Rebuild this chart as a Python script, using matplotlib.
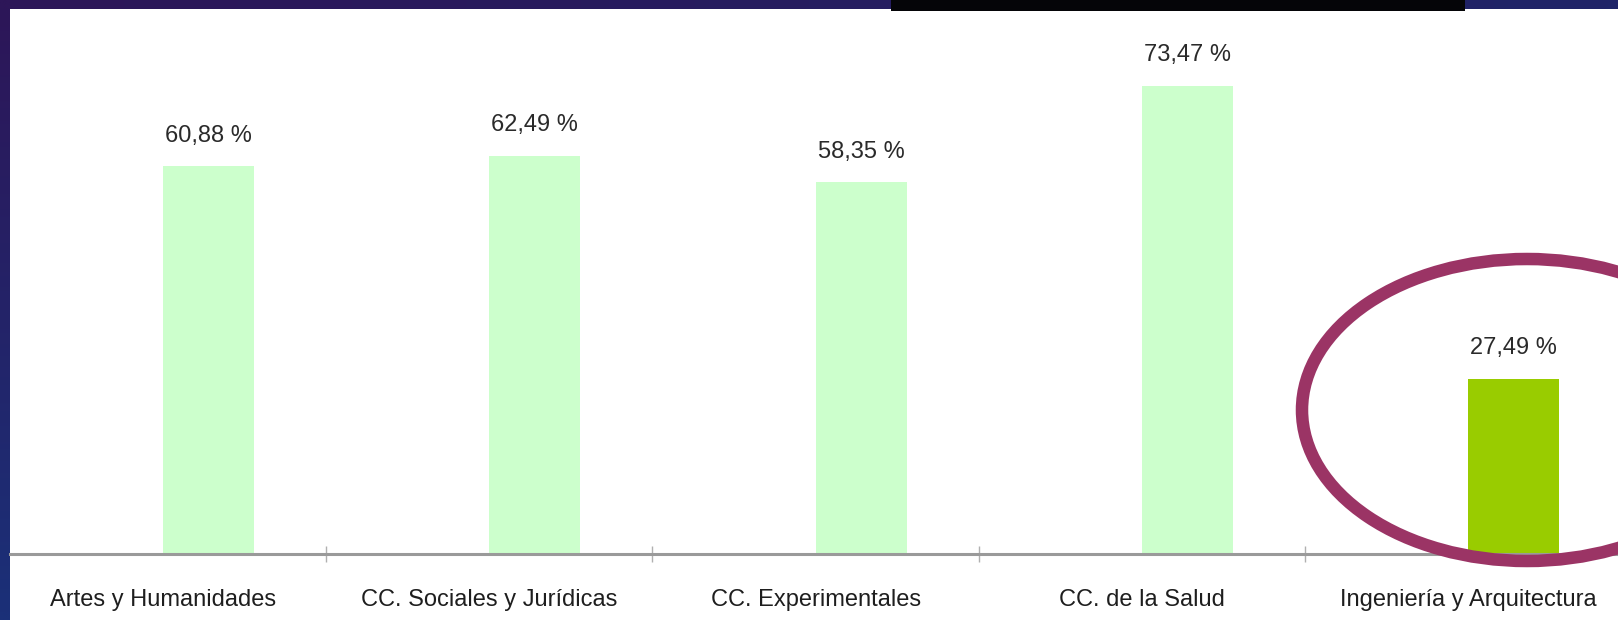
import matplotlib
matplotlib.use("Agg")
import matplotlib.pyplot as plt
from matplotlib import font_manager
from matplotlib.patches import Ellipse, Rectangle
from matplotlib.colors import to_rgb
import numpy as np

# ---------------- data ----------------
categories = ["Artes y Humanidades", "CC. Sociales y Jurídicas", "CC. Experimentales",
              "CC. de la Salud", "Ingeniería y Arquitectura"]
values = [60.88, 62.49, 58.35, 73.47, 27.49]
value_labels = ["60,88 %", "62,49 %", "58,35 %", "73,47 %", "27,49 %"]
highlight = [False, False, False, False, True]

# ---------------- fonts ----------------
names = {f.name for f in font_manager.fontManager.ttflist}
if "Liberation Sans Narrow" in names:
    FAM = ["Liberation Sans Narrow", "DejaVu Sans"]
    FS = 20
else:
    FAM = ["Liberation Sans", "DejaVu Sans"]
    FS = 17
plt.rcParams["font.family"] = FAM

W, H = 1618, 620
fig = plt.figure(figsize=(W / 100, H / 100), dpi=100)
fig.patch.set_facecolor("white")

# ---------------- frame (background gradient border) ----------------
bg = fig.add_axes([0, 0, 1, 1], zorder=0)
bg.set_axis_off()
tl, tr = np.array(to_rgb("#2d1658")), np.array(to_rgb("#1f2468"))
bl, br = np.array(to_rgb("#1b3078")), np.array(to_rgb("#1b3078"))
ny, nx = 40, 80
yy, xx = np.meshgrid(np.linspace(0, 1, ny), np.linspace(0, 1, nx), indexing="ij")
img = (tl[None, None] * ((1 - xx) * (1 - yy))[..., None] + tr[None, None] * (xx * (1 - yy))[..., None]
       + bl[None, None] * ((1 - xx) * yy)[..., None] + br[None, None] * (xx * yy)[..., None])
bg.imshow(img, extent=[0, W, H, 0], aspect="auto", interpolation="bilinear")
bg.set_xlim(0, W)
bg.set_ylim(H, 0)
bg.add_patch(Rectangle((10, 9), W - 10, H - 9, facecolor="white", edgecolor="none"))
bg.add_patch(Rectangle((891, 0), 574, 11, facecolor="#050508", edgecolor="none"))

# ---------------- chart axes ----------------
ax_bottom_px = 554
ax_top_px = 9
ax = fig.add_axes([10 / W, (H - ax_bottom_px) / H, (W - 10) / W, (ax_bottom_px - ax_top_px) / H], zorder=1)
ax.set_facecolor("none")

step_px = 326.3
x0_px = 163
ax.set_xlim((10 - x0_px) / step_px, (W - x0_px) / step_px)
ax.set_ylim(0, (ax_bottom_px - ax_top_px) / 6.37)

x = np.arange(len(categories))
bw = 0.279
cols = ["#99cc00" if h else "#ccffcc" for h in highlight]
ax.bar(x, values, width=bw, align="edge", color=cols, edgecolor="none", zorder=2)

for xi, v, lbl in zip(x, values, value_labels):
    ax.annotate(lbl, (xi + bw / 2, v), xytext=(0, 22), textcoords="offset points",
                ha="center", va="center", fontsize=FS, color="#2a2a2a")

for s in ["top", "right", "left"]:
    ax.spines[s].set_visible(False)
ax.spines["bottom"].set_color("#9a9a9a")
ax.spines["bottom"].set_linewidth(2.2)
ax.spines["bottom"].set_zorder(3)
ax.set_yticks([])

ax.set_xticks(x[:-1] + 0.5)
ax.set_xticklabels([])
ax.tick_params(axis="x", which="major", direction="inout", length=12, width=1.0, color="#b0b0b0")
ax.set_xticks(x, minor=True)
ax.set_xticklabels(categories, minor=True, fontsize=FS, color="#1e1e1e")
ax.tick_params(axis="x", which="minor", length=0, pad=25)

# ---------------- highlight ellipse ----------------
ell = Ellipse((1527, 410), 450, 302, fill=False, edgecolor="#9b3465", linewidth=9,
              transform=bg.transData, zorder=5, clip_on=False)
fig.add_artist(ell)

fig.savefig("out.png", dpi=100)
